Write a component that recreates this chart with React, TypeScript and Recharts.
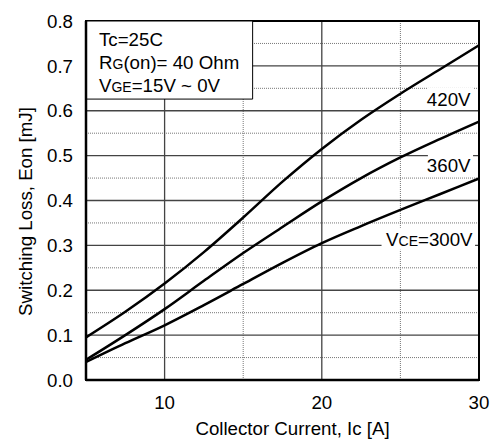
import { LineChart, Line, XAxis, YAxis, CartesianGrid, ReferenceArea } from 'recharts';

// Collector current [A] and switching loss Eon [mJ] per VCE
const current = [5, 7.5, 10, 12.5, 15, 17.5, 20, 22.5, 25, 27.5, 30];
const eon420 = [0.095, 0.152, 0.215, 0.285, 0.362, 0.442, 0.515, 0.58, 0.638, 0.692, 0.746];
const eon360 = [0.045, 0.1, 0.158, 0.221, 0.283, 0.341, 0.398, 0.45, 0.496, 0.537, 0.576];
const eon300 = [0.04, 0.082, 0.122, 0.167, 0.214, 0.261, 0.305, 0.343, 0.379, 0.414, 0.449];

const xTicks = [10, 20, 30];
const yTicks = [0, 0.1, 0.2, 0.3, 0.4, 0.5, 0.6, 0.7, 0.8];
const xMajor = [10, 20];
const xMinor = [15, 25];
const yMajor = [0.1, 0.2, 0.3, 0.4, 0.5, 0.6, 0.7];
const yMinor = [0.05, 0.15, 0.25, 0.35, 0.45, 0.55, 0.65, 0.75];

const data = current.map((ic, i) => ({
  ic,
  v420: eon420[i],
  v360: eon360[i],
  v300: eon300[i],
}));

const FONT = '"Liberation Sans", Arial, sans-serif';
const FS = 18.7;
const SMALL = 14;

const legendBox = { x1: 5, x2: 15.6, y1: 0.626, y2: 0.8 };

const curveLabels = [
  { key: '420', x1: 26.75, x2: 29.62, y1: 0.603, y2: 0.652, prefix: '', text: '420V' },
  { key: '360', x1: 26.75, x2: 29.62, y1: 0.455, y2: 0.506, prefix: '', text: '360V' },
  { key: '300', x1: 23.8, x2: 29.75, y1: 0.29, y2: 0.339, prefix: 'VCE', text: '=300V' },
];

function LegendText({ viewBox }: any) {
  const x = viewBox.x + 13;
  const y = viewBox.y;
  return (
    <text fontFamily={FONT} fontSize={FS} fill="#000">
      <tspan x={x} y={y + 25}>Tc=25C</tspan>
      <tspan x={x} y={y + 48.3}>R</tspan>
      <tspan fontSize={SMALL}>G</tspan>
      <tspan>(on)= 40 Ohm</tspan>
      <tspan x={x} y={y + 70.7}>V</tspan>
      <tspan fontSize={SMALL}>GE</tspan>
      <tspan>=15V ~ 0V</tspan>
    </text>
  );
}

function makeCurveLabel(prefix: string, text: string) {
  return ({ viewBox }: any) => (
    <text
      x={viewBox.x + viewBox.width - 2.5}
      y={viewBox.y + viewBox.height / 2 + 7.5}
      textAnchor="end"
      fontFamily={FONT}
      fontSize={FS}
      fill="#000"
    >
      {prefix ? (
        <>
          <tspan>V</tspan>
          <tspan fontSize={SMALL}>CE</tspan>
        </>
      ) : null}
      <tspan>{text}</tspan>
    </text>
  );
}

function XTitle({ viewBox }: any) {
  return (
    <text
      x={viewBox.x + viewBox.width / 2 + 10}
      y={viewBox.y + viewBox.height - 4}
      textAnchor="middle"
      fontFamily={FONT}
      fontSize={FS}
      fill="#000"
    >
      Collector Current, Ic [A]
    </text>
  );
}

function YTitle({ viewBox }: any) {
  const cx = 32;
  const cy = viewBox.y + viewBox.height / 2 + 11;
  return (
    <text
      x={cx}
      y={cy}
      transform={`rotate(-90, ${cx}, ${cy})`}
      textAnchor="middle"
      fontFamily={FONT}
      fontSize={FS}
      fill="#000"
    >
      Switching Loss, Eon [mJ]
    </text>
  );
}

export default function App() {
  return (
    <div style={{ position: 'absolute', left: 0, top: 0, width: 491, height: 439, background: '#fff' }}>
      <LineChart
        width={491}
        height={439}
        data={data}
        margin={{ top: 21, right: 12, bottom: 0, left: 0 }}
        style={{ fontFamily: FONT }}
      >
        <CartesianGrid
          horizontalValues={yMinor}
          verticalValues={xMinor}
          stroke="#777"
          strokeDasharray="1 1"
        />
        <CartesianGrid
          horizontalValues={yMajor}
          verticalValues={xMajor}
          stroke="#444"
          strokeWidth={1.3}
        />
        <XAxis
          dataKey="ic"
          type="number"
          domain={[5, 30]}
          ticks={xTicks}
          height={59}
          tickSize={0}
          tickMargin={16}
          tick={{ fontSize: FS, fill: '#000', fontFamily: FONT }}
          axisLine={{ stroke: '#000', strokeWidth: 2.5 }}
          label={XTitle}
        />
        <YAxis
          type="number"
          domain={[0, 0.8]}
          ticks={yTicks}
          width={86}
          tickSize={0}
          tickMargin={13}
          tickFormatter={(v: number) => v.toFixed(1)}
          tick={{ fontSize: FS, fill: '#000', fontFamily: FONT }}
          axisLine={{ stroke: '#000', strokeWidth: 2.5 }}
          label={YTitle}
        />
        <ReferenceArea x1={5} x2={30} y1={0} y2={0.8} fill="none" stroke="#000" strokeWidth={2} />
        <ReferenceArea
          x1={legendBox.x1}
          x2={legendBox.x2}
          y1={legendBox.y1}
          y2={legendBox.y2}
          fill="#fff"
          fillOpacity={1}
          stroke="#000"
          strokeWidth={1}
          label={LegendText}
        />
        {curveLabels.map((c) => (
          <ReferenceArea
            key={c.key}
            x1={c.x1}
            x2={c.x2}
            y1={c.y1}
            y2={c.y2}
            fill="#fff"
            fillOpacity={1}
            stroke="none"
            label={makeCurveLabel(c.prefix, c.text)}
          />
        ))}
        <Line type="monotone" dataKey="v420" stroke="#000" strokeWidth={2.5} dot={false} isAnimationActive={false} />
        <Line type="monotone" dataKey="v360" stroke="#000" strokeWidth={2.5} dot={false} isAnimationActive={false} />
        <Line type="monotone" dataKey="v300" stroke="#000" strokeWidth={2.5} dot={false} isAnimationActive={false} />
      </LineChart>
    </div>
  );
}
